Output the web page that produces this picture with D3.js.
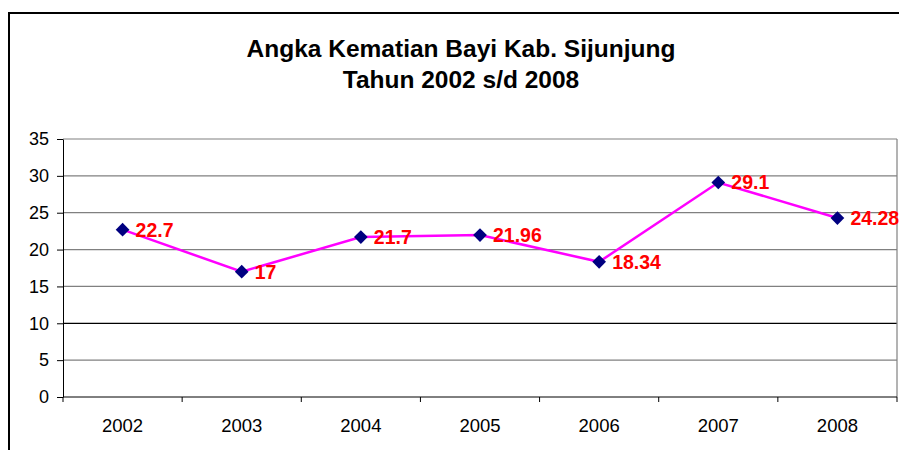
<!DOCTYPE html>
<html>
<head>
<meta charset="utf-8">
<script src="https://cdn.jsdelivr.net/npm/d3@7"></script>
<style>
  body { margin: 0; background: #fff; }
  svg { display: block; font-family: "Liberation Sans", Arial, sans-serif; }
</style>
</head>
<body>
<div id="chart"></div>
<script>
// data
var years = ["2002", "2003", "2004", "2005", "2006", "2007", "2008"];
var values = [22.7, 17, 21.7, 21.96, 18.34, 29.1, 24.28];
var yTicks = [0, 5, 10, 15, 20, 25, 30, 35];
var titleLines = ["Angka Kematian Bayi Kab. Sijunjung", "Tahun 2002 s/d 2008"];

var width = 899, height = 450;
var margin = {left: 63, top: 139, right: 2, bottom: 53};

var svg = d3.select("#chart").append("svg")
    .attr("width", width)
    .attr("height", height);

// outer frame of the chart
svg.append("rect")
    .attr("x", 9).attr("y", 13)
    .attr("width", 1000).attr("height", 1000)
    .attr("fill", "none")
    .attr("stroke", "#000")
    .attr("stroke-width", 2);

svg.selectAll("text.title")
    .data(titleLines)
    .enter().append("text")
    .attr("class", "title")
    .attr("x", 461)
    .attr("y", function(d, i) { return 57 + i * 31; })
    .attr("text-anchor", "middle")
    .style("font-size", "24.5px")
    .style("font-weight", "bold")
    .text(function(d) { return d; });

var x = d3.scaleBand()
    .domain(years)
    .range([margin.left, width - margin.right]);

var y = d3.scaleLinear()
    .domain([0, 35])
    .range([height - margin.bottom, margin.top]);

// grid lines
svg.append("g")
    .selectAll("line")
    .data(yTicks.slice(1))
    .enter().append("line")
    .attr("x1", margin.left).attr("x2", width - margin.right)
    .attr("y1", function(d) { return y(d); })
    .attr("y2", function(d) { return y(d); })
    .attr("stroke", function(d) { return d === 10 ? "#000" : "#808080"; })
    .attr("stroke-width", 1.2);

// right border of plot
svg.append("line")
    .attr("x1", width - margin.right).attr("x2", width - margin.right)
    .attr("y1", margin.top).attr("y2", y(0))
    .attr("stroke", "#808080").attr("stroke-width", 1.2);

// y axis
var yAxis = svg.append("g")
    .attr("transform", "translate(" + margin.left + ",0)")
    .call(d3.axisLeft(y).tickValues(yTicks).tickSize(6).tickPadding(8).tickSizeOuter(0));
yAxis.selectAll("text").style("font-size", "18px").attr("fill", "#000");
yAxis.selectAll("line, path").attr("stroke", "#000");

// x axis with ticks between categories
var xAxis = svg.append("g")
    .attr("transform", "translate(0," + y(0) + ")");
xAxis.append("line")
    .attr("x1", margin.left).attr("x2", width - margin.right)
    .attr("stroke", "#000");
xAxis.selectAll("line.tick")
    .data(years.concat(["end"]))
    .enter().append("line")
    .attr("class", "tick")
    .attr("x1", function(d, i) { return margin.left + i * x.bandwidth(); })
    .attr("x2", function(d, i) { return margin.left + i * x.bandwidth(); })
    .attr("y1", 0).attr("y2", 5)
    .attr("stroke", "#000");
xAxis.selectAll("text")
    .data(years)
    .enter().append("text")
    .attr("x", function(d) { return x(d) + x.bandwidth() / 2; })
    .attr("y", 35)
    .attr("text-anchor", "middle")
    .style("font-size", "18.5px")
    .text(function(d) { return d; });

var cx = function(d, i) { return x(years[i]) + x.bandwidth() / 2; };

var line = d3.line()
    .x(function(d, i) { return cx(d, i); })
    .y(function(d) { return y(d); });

svg.append("path")
    .datum(values)
    .attr("d", line)
    .attr("fill", "none")
    .attr("stroke", "#FF00FF")
    .attr("stroke-width", 2.5);

svg.selectAll("path.marker")
    .data(values)
    .enter().append("path")
    .attr("class", "marker")
    .attr("d", d3.symbol(d3.symbolDiamond2, 120))
    .attr("transform", function(d, i) { return "translate(" + cx(d, i) + "," + y(d) + ")"; })
    .attr("fill", "#000080");

svg.selectAll("text.lbl")
    .data(values)
    .enter().append("text")
    .attr("class", "lbl")
    .attr("x", function(d, i) { return cx(d, i) + 13; })
    .attr("y", function(d) { return y(d) + 7; })
    .style("font-size", "19.5px")
    .style("font-weight", "bold")
    .attr("fill", "#FF0000")
    .text(function(d) { return d; });
</script>
</body>
</html>
